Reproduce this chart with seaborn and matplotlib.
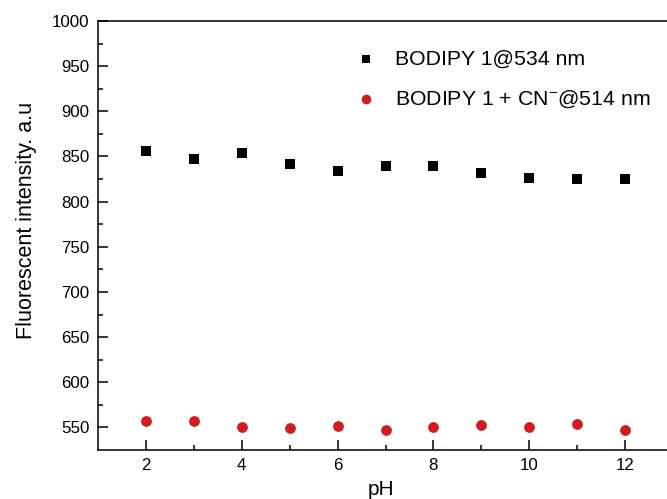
import numpy as np
import pandas as pd
import seaborn as sns
import matplotlib.pyplot as plt

ph = [2, 3, 4, 5, 6, 7, 8, 9, 10, 11, 12]
bodipy = [856, 847, 854, 842, 834, 840, 839, 832, 826, 825, 825]
bodipy_cn = [557, 557, 551, 549, 552, 547, 551, 553, 550, 554, 547]
labels = ["BODIPY 1@534 nm", "BODIPY 1 + CN$^{\\mathregular{-}}$@514 nm"]

sns.set_style("ticks")
plt.rcParams["font.family"] = ["Liberation Sans", "DejaVu Sans"]
plt.rcParams["mathtext.default"] = "regular"
plt.rcParams["text.color"] = "black"
plt.rcParams["axes.labelcolor"] = "black"
plt.rcParams["xtick.color"] = "black"
plt.rcParams["ytick.color"] = "black"

df = pd.DataFrame({"pH": ph, "a": bodipy, "b": bodipy_cn})

fig = plt.figure(figsize=(6.67, 4.99), dpi=100)
ax = fig.add_axes([98 / 667, 1 - 450 / 499, 575 / 667, 429 / 499])

sns.scatterplot(data=df, x="pH", y="a", marker="s", color="black", s=48,
                linewidth=0, label=labels[0], ax=ax)
sns.scatterplot(data=df, x="pH", y="b", marker="o", color="#d01c1f", s=60,
                linewidth=0, label=labels[1], ax=ax)

ax.set_xlim(1, 13)
ax.set_ylim(525, 1000)
ax.set_xticks([2, 4, 6, 8, 10, 12])
ax.set_xticks(np.arange(3, 13, 2), minor=True)
ax.set_yticks(np.arange(550, 1001, 50))
ax.set_yticks(np.arange(575, 1000, 50), minor=True)
ax.tick_params(which="both", direction="in", width=1.1, labelsize=12.2,
               top=False, right=False)
ax.tick_params(which="major", length=7, pad=6)
ax.tick_params(which="minor", length=3.5)
for sp in ax.spines.values():
    sp.set_linewidth(1.1)
    sp.set_color("black")

ax.set_xlabel("pH", fontsize=15)
ax.set_ylabel("Fluorescent intensity. a.u", fontsize=15.5)
ax.xaxis.set_label_coords(0.492, -0.07)
ax.yaxis.set_label_coords(-0.106, 0.536)

ax.legend(loc="upper left", bbox_to_anchor=(347 / 667, 1 - 41 / 499),
          bbox_transform=fig.transFigure, frameon=False, fontsize=15.3,
          handlelength=1, handletextpad=0.85, borderaxespad=0,
          labelspacing=0.95, markerscale=0.9)

fig.savefig("out.png", dpi=100)
